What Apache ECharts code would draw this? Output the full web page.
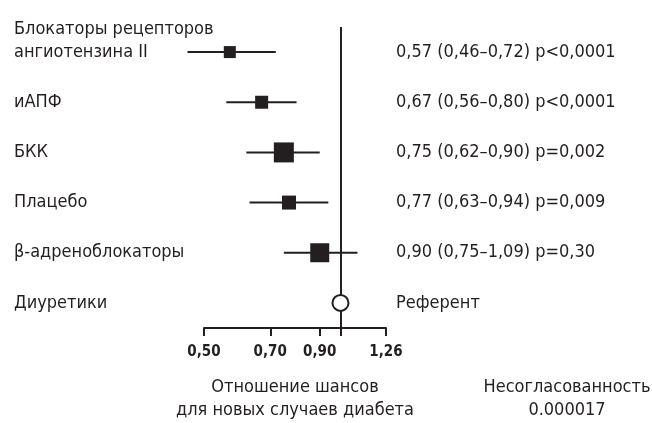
<!DOCTYPE html>
<html><head><meta charset="utf-8">
<script src="https://cdn.jsdelivr.net/npm/echarts@6/dist/echarts.min.js"></script>
<style>html,body{margin:0;padding:0;background:#fff}#c{width:652px;height:423px}</style>
</head><body><div id="c"></div>
<script>
const categories = ['Блокаторы рецепторов\nангиотензина II', 'иАПФ', 'БКК', 'Плацебо', 'β-адреноблокаторы', 'Диуретики'];
const oddsRatio = [0.57, 0.67, 0.75, 0.77, 0.90, 1.00];
const ciLow = [0.46, 0.56, 0.62, 0.63, 0.75];
const ciHigh = [0.72, 0.80, 0.90, 0.94, 1.09];
const markerSize = [12, 13, 20, 14, 19];
const statsText = ['0,57 (0,46–0,72) p<0,0001', '0,67 (0,56–0,80) p<0,0001', '0,75 (0,62–0,90) p=0,002', '0,77 (0,63–0,94) p=0,009', '0,90 (0,75–1,09) p=0,30', 'Референт'];
const tickLabels = [0.5, 0.7, 0.9, 1.26];
const referenceValue = 1.0;
const axisName = 'Отношение шансов\nдля новых случаев диабета';
const heterogeneityLabel = 'Несогласованность';
const heterogeneityValue = '0.000017';

const INK = '#231f20';
const FONT = '"DejaVu Sans Condensed", "DejaVu Sans", sans-serif';

const forestData = ciLow.map((lo, i) => [oddsRatio[i], i, lo, ciHigh[i], markerSize[i]]);
const refIndex = categories.length - 1;

const chart = echarts.init(document.getElementById('c'));
chart.setOption({
  animation: false,
  backgroundColor: '#fff',
  textStyle: { fontFamily: FONT, color: INK },
  grid: { left: 204, right: 266, top: 27, height: 301, containLabel: false, outerBoundsMode: 'none' },
  xAxis: {
    type: 'log', logBase: 10, min: 0.5, max: 1.26,
    axisLine: { show: true, lineStyle: { color: INK, width: 2 } },
    axisTick: { show: true, length: 8, lineStyle: { color: INK, width: 2 }, customValues: tickLabels.concat([referenceValue]) },
    axisLabel: {
      customValues: tickLabels, margin: 17,
      fontFamily: FONT, fontWeight: 'bold', fontSize: 15, color: INK,
      formatter: v => Number(v).toFixed(2).replace('.', ',')
    },
    splitLine: { show: false },
    name: axisName, nameLocation: 'middle', nameGap: 48,
    nameTextStyle: { fontFamily: FONT, fontSize: 18, color: INK, lineHeight: 23 }
  },
  yAxis: [{
    type: 'category', data: categories, inverse: true,
    axisLine: { show: false }, axisTick: { show: false }, splitLine: { show: false },
    axisLabel: {
      align: 'left', margin: 190, fontFamily: FONT, fontSize: 18, color: INK, lineHeight: 23,
      formatter: v => v.indexOf('\n') >= 0 ? v + '\n ' : v
    }
  }, {
    type: 'category', data: statsText, inverse: true, position: 'right',
    axisLine: { show: false }, axisTick: { show: false }, splitLine: { show: false },
    axisLabel: { align: 'left', margin: 10, fontFamily: FONT, fontSize: 18, color: INK }
  }],
  series: [{
    type: 'custom',
    data: forestData,
    encode: { x: [0, 2, 3], y: 1 },
    renderItem: (params, api) => {
      const y = api.value(1);
      const p = api.coord([api.value(0), y]);
      const a = api.coord([api.value(2), y]);
      const b = api.coord([api.value(3), y]);
      const s = api.value(4);
      return { type: 'group', children: [
        { type: 'line', shape: { x1: a[0], y1: a[1], x2: b[0], y2: b[1] }, style: { stroke: INK, lineWidth: 2 } },
        { type: 'rect', shape: { x: p[0] - s / 2, y: p[1] - s / 2, width: s, height: s }, style: { fill: INK } }
      ]};
    },
    markLine: {
      silent: true, symbol: 'none', label: { show: false },
      lineStyle: { color: INK, width: 2, type: 'solid' },
      data: [{ xAxis: referenceValue }]
    },
    z: 3
  }, {
    type: 'scatter',
    data: [[oddsRatio[refIndex], refIndex]],
    symbol: 'circle', symbolSize: 16,
    itemStyle: { color: '#fff', borderColor: INK, borderWidth: 2, opacity: 1 },
    z: 5
  }],
  graphic: [{
    type: 'text', x: 567, y: 376,
    style: { text: heterogeneityLabel + '\n' + heterogeneityValue, fontFamily: FONT, fontSize: 18, fill: INK, align: 'center', lineHeight: 23 }
  }]
});
</script></body></html>
